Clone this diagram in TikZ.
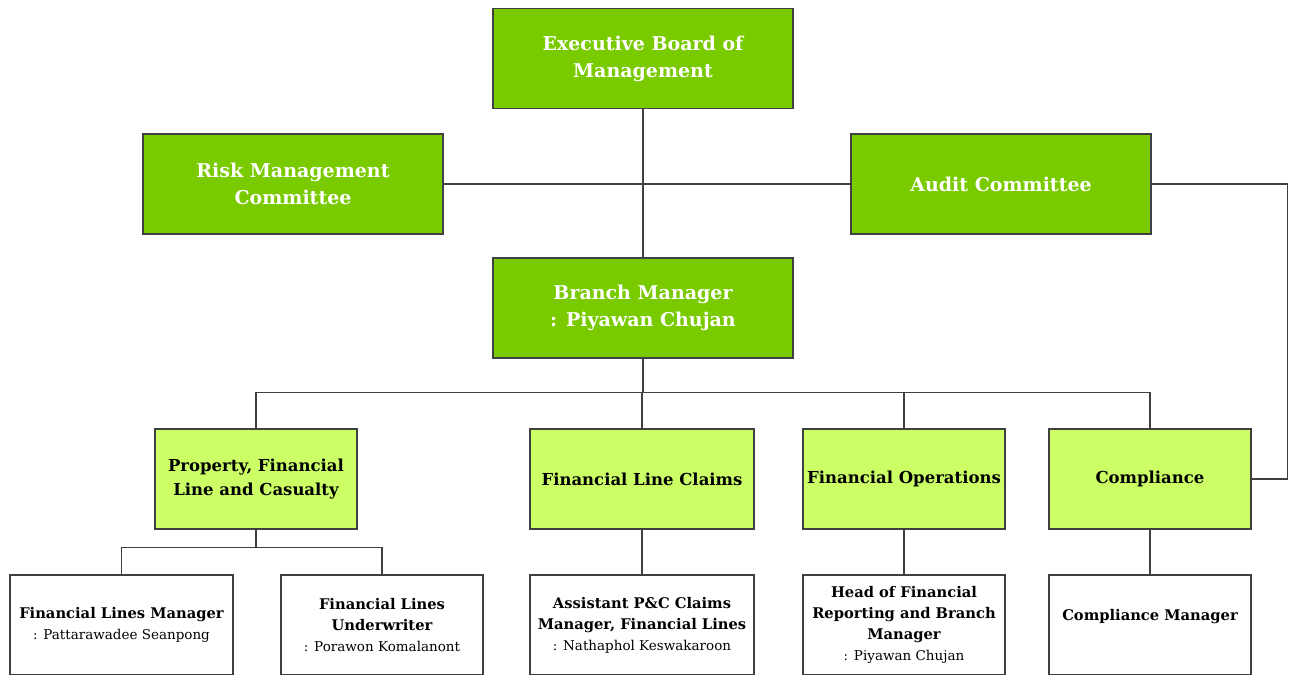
\documentclass[tikz,border=0pt]{standalone}
\usepackage{fontspec}
\setmainfont{DejaVu Serif}
\definecolor{boardgreen}{HTML}{7ACA00}
\definecolor{unitgreen}{HTML}{CCFF66}
\definecolor{edgegray}{HTML}{404040}
\newcommand{\personname}{\fontsize{13.5}{21}\selectfont\mdseries}
\begin{document}
\begin{tikzpicture}[x=1pt,y=-1pt,
  orgbox/.style={draw=edgegray, line width=1.1pt, align=center, inner sep=0pt},
  topbox/.style={orgbox, fill=boardgreen, text=white, minimum width=300pt, minimum height=100pt,
    font=\fontsize{19}{27}\selectfont\bfseries},
  unitbox/.style={orgbox, fill=unitgreen, text=black, minimum height=100pt,
    font=\fontsize{16.5}{24}\selectfont\bfseries},
  staffbox/.style={orgbox, fill=white, text=black, minimum height=100pt,
    font=\fontsize{14.7}{21}\selectfont\bfseries},
  link/.style={draw=edgegray, line width=1.1pt}]
\fill[white] (0,0) rectangle (1296,675);
\useasboundingbox (0,0) rectangle (1296,675);
% the lowest row runs past the bottom edge of the chart
\clip (0,0) rectangle (1296,674);

% board and committees
\node[topbox] (exec) at (643,58.5) {Executive Board of\\Management};
\node[topbox] (risk) at (293,184) {Risk Management\\Committee};
\node[topbox] (audit) at (1001,184) {Audit Committee};
\node[topbox] (branch) at (643,308) {Branch Manager\\: Piyawan Chujan};

% business units
\node[unitbox, minimum width=202pt] (pflc) at (256,479) {Property, Financial\\Line and Casualty};
\node[unitbox, minimum width=224pt] (flc) at (642,479) {Financial Line Claims};
\node[unitbox, minimum width=202pt] (fo) at (904,479) {Financial Operations};
\node[unitbox, minimum width=202pt] (comp) at (1150,479) {Compliance};

% staff positions
\node[staffbox, minimum width=223pt] (flm) at (121.5,625) {Financial Lines Manager\\{\personname : Pattarawadee Seanpong}};
\node[staffbox, minimum width=202pt] (flu) at (382,625) {Financial Lines\\Underwriter\\{\personname : Porawon Komalanont}};
\node[staffbox, minimum width=224pt] (apc) at (642,625) {Assistant P\&C Claims\\Manager, Financial Lines\\{\personname : Nathaphol Keswakaroon}};
\node[staffbox, minimum width=202pt] (hfr) at (904,625) {Head of Financial\\Reporting and Branch\\Manager\\{\personname : Piyawan Chujan}};
\node[staffbox, minimum width=202pt] (cm) at (1150,625) {Compliance Manager\\\mbox{}};

% reporting lines
\draw[link] (exec.south) -- (branch.north);
\draw[link] (risk.east) -- (audit.west);
\draw[link] (audit.east) -- ++(136,0) coordinate (auditturn) |- (comp.east);
\draw[link] (branch.south) -- ++(0,34) coordinate (unitbus);
\draw[link] (pflc.north) |- (unitbus) -| (comp.north);
\draw[link] (flc.north) -- (flc.north |- unitbus);
\draw[link] (fo.north) -- (fo.north |- unitbus);
\draw[link] (pflc.south) -- ++(0,18) coordinate (pflcbus);
\draw[link] (flm.north) |- (pflcbus) -| (flu.north);
\draw[link] (flc.south) -- (apc.north);
\draw[link] (fo.south) -- (hfr.north);
\draw[link] (comp.south) -- (cm.north);
\end{tikzpicture}
\end{document}
